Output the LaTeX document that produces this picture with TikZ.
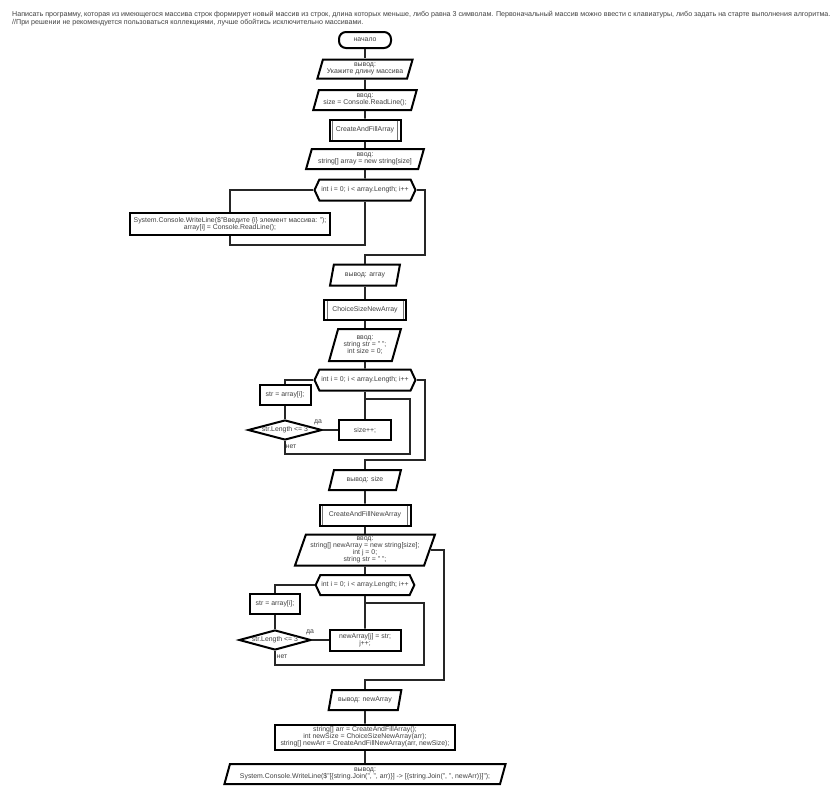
\documentclass[tikz,border=0pt]{standalone}
\usepackage{fontspec}
\setmainfont{Liberation Sans}
\usepackage{tikz}
\usetikzlibrary{shapes.geometric,shapes.symbols}
\tikzstyle{base}=[draw=black,line width=2pt,inner sep=1pt,text=black!75,align=center]
\tikzstyle{term}=[base,rounded corners=7pt,minimum width=52pt,minimum height=16pt]
\tikzstyle{io}=[base,trapezium,trapezium left angle=70,trapezium right angle=110,trapezium stretches=true]
\tikzstyle{proc}=[base,rectangle]
\tikzstyle{subproc}=[proc]
\tikzstyle{inner}=[draw,black!55,line width=1pt]
\tikzstyle{loop}=[base,signal,signal to=west and east,signal pointer angle=130,minimum width=101pt,minimum height=21pt]
\tikzstyle{cond}=[base,diamond,aspect=3.7,inner sep=0pt,minimum width=74pt,minimum height=20pt]
\tikzstyle{edge}=[draw,line width=1.6pt,black!85]
\tikzstyle{lbl}=[text=black!75,inner sep=0pt]

\begin{document}
\begin{tikzpicture}[x=1pt,y=-1pt,font=\fontsize{6.9}{7}\selectfont]
    \useasboundingbox (0,0) rectangle (835,795);
    % task text at the top
    \node[lbl,anchor=north west,align=left,font=\fontsize{7.1}{7.8}\selectfont] (task) at (12,11) {Написать программу, которая из имеющегося массива строк формирует новый массив из строк, длина которых меньше, либо равна 3 символам. Первоначальный массив можно ввести с клавиатуры, либо задать на старте выполнения алгоритма.\\//При решении не рекомендуется пользоваться коллекциями, лучше обойтись исключительно массивами.};

    % main column
    \node[term] (start) at (365,40) {начало};
    \node[io,minimum width=96pt,minimum height=19pt] (out1) at (365,69) {вывод:\\Укажите длину массива};
    \node[io,minimum width=104pt,minimum height=20pt] (in1) at (365,100) {ввод:\\size = Console.ReadLine();};
    \node[subproc,minimum width=71pt,minimum height=21pt] (cafa) at (365,130) {CreateAndFillArray};
    \node[io,minimum width=118pt,minimum height=20pt] (in2) at (365,159) {ввод:\\string[] array = new string[size]};

    % first loop
    \node[loop] (loop1) at (365,190) {int i = 0; i < array.Length; i++};
    \node[proc,minimum width=200pt,minimum height=22pt] (wl) at (230,224) {System.Console.WriteLine(\$"Введите \{i\} элемент массива: ");\\array[i] = Console.ReadLine();};
    \coordinate (j1) at (365,245);
    \coordinate (x1) at (425,255);

    \node[io,minimum width=70pt,minimum height=21pt] (out2) at (365,275) {вывод: array};
    \node[subproc,minimum width=82pt,minimum height=20pt] (csna) at (365,310) {ChoiceSizeNewArray};
    \node[io,minimum width=72pt,minimum height=32pt] (in3) at (365,345) {ввод:\\string str = " ";\\int size = 0;};

    % second loop
    \node[loop] (loop2) at (365,380) {int i = 0; i < array.Length; i++};
    \node[proc,minimum width=51pt,minimum height=20pt] (str1) at (285,395) {str = array[i];};
    \node[cond] (cond1) at (285,430) {str.Length <= 3};
    \node[proc,minimum width=52pt,minimum height=20pt] (inc1) at (365,430) {size++;};
    \coordinate (r1) at (410,454);
    \coordinate (j2) at (365,399);
    \coordinate (x2) at (425,460);

    \node[io,minimum width=72pt,minimum height=20pt] (out3) at (365,480) {вывод: size};
    \node[subproc,minimum width=91pt,minimum height=21pt] (cafna) at (365,515) {CreateAndFillNewArray};
    \node[io,minimum width=140pt,minimum height=31pt] (in4) at (365,550) {ввод:\\string[] newArray = new string[size];\\int j = 0;\\string str = " ";};

    % third loop
    \node[loop,minimum width=98pt,minimum height=20pt] (loop3) at (365,585) {int i = 0; i < array.Length; i++};
    \node[proc,minimum width=50pt,minimum height=20pt] (str2) at (275,604) {str = array[i];};
    \node[cond,minimum width=72pt] (cond2) at (275,640) {str.Length <= 3};
    \node[proc,minimum width=71pt,minimum height=21pt] (na) at (365,640) {newArray[j] = str;\\j++;};
    \coordinate (r2) at (424,665);
    \coordinate (j3) at (365,603);
    \coordinate (x3) at (444,680);

    \node[io,minimum width=73pt,minimum height=20pt] (out4) at (365,700) {вывод: newArray};
    \node[proc,minimum width=180pt,minimum height=25pt] (main) at (365,737) {string[] arr = CreateAndFillArray();\\int newSize = ChoiceSizeNewArray(arr);\\string[] newArr = CreateAndFillNewArray(arr, newSize);};
    \node[io,minimum width=282pt,minimum height=20pt] (out5) at (365,774) {вывод:\\System.Console.WriteLine(\$"[\{string.Join(", ", arr)\}] -> [\{string.Join(", ", newArr)\}]");};

    % inner bars of the subroutine boxes
    \foreach \name in {cafa, csna, cafna}
    {
        \path[inner] ([xshift=4pt,yshift=-2pt]\name.north west) -- ([xshift=4pt,yshift=2pt]\name.south west);
        \path[inner] ([xshift=-4pt,yshift=-2pt]\name.north east) -- ([xshift=-4pt,yshift=2pt]\name.south east);
    }

    % yes / no labels
    \node[lbl] (yes1) at (318,422) {да};
    \node[lbl] (no1) at (291,447) {нет};
    \node[lbl] (yes2) at (310,632) {да};
    \node[lbl] (no2) at (282,657) {нет};

    % straight links of the main column
    \foreach \source/\dest in {start/out1, out1/in1, in1/cafa, cafa/in2, in2/loop1, out2/csna, csna/in3, in3/loop2, out3/cafna, cafna/in4, in4/loop3, out4/main, main/out5, str1/cond1, str2/cond2, loop2/inc1, loop3/na}
        \path[edge] (\source) -- (\dest);
    \path[edge] (cond1.east) -- (inc1.west);
    \path[edge] (cond2.east) -- (na.west);

    % loop bodies and exits
    \path[edge] (loop1.west) -| (wl.north);
    \path[edge] (wl.south) |- (j1) -- (loop1.south);
    \path[edge] (loop1.east) -| (x1) -| (out2.north);
    \path[edge] (loop2.west) -| (str1.north);
    \path[edge] (cond1.south) |- (r1) |- (j2);
    \path[edge] (loop2.east) -| (x2) -| (out3.north);
    \path[edge] (loop3.west) -| (str2.north);
    \path[edge] (cond2.south) |- (r2) |- (j3);
    \path[edge] (in4.east) -| (x3) -| (out4.north);
\end{tikzpicture}
\end{document}
